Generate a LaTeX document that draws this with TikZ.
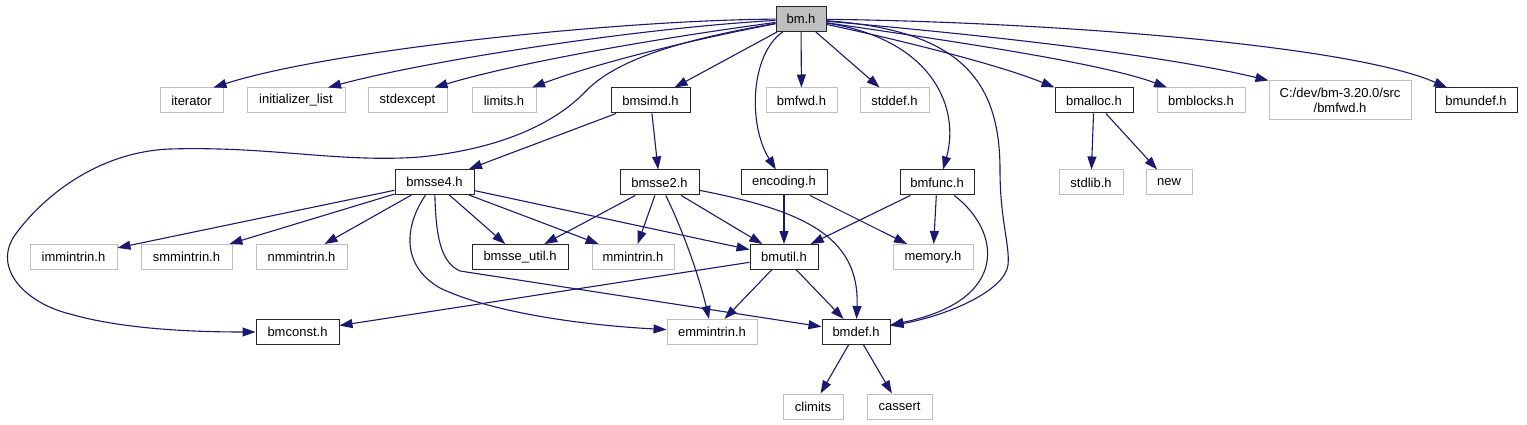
\documentclass[tikz,border=0pt]{standalone}
\usepackage{fontspec}
\setmainfont{Liberation Sans}
\usetikzlibrary{arrows.meta}
\definecolor{edgeblue}{HTML}{191970}
\definecolor{extgray}{HTML}{BFBFBF}

\begin{document}
\begin{tikzpicture}[x=1pt,y=-1pt,
  file/.style={rectangle,inner sep=0pt,minimum height=25pt,line width=1pt,
    font=\fontsize{13}{15}\selectfont},
  inc/.style={file,draw=black!85},
  sys/.style={file,draw=extgray},
  dep/.style={edgeblue,line width=1.1pt,-{Triangle[length=13pt,width=9pt]}}]
  \useasboundingbox (0,0) rectangle (1527,425);

  % files
  \node[inc,fill=extgray,minimum width=50pt] (bmh) at (801,19) {bm.h};

  \node[sys,minimum width=63pt] (iterator) at (191.5,100.5) {iterator};
  \node[sys,minimum width=98pt] (initlist) at (296,100.5) {initializer\_list};
  \node[sys,minimum width=79pt] (stdexcept) at (407.5,100.5) {stdexcept};
  \node[sys,minimum width=64pt] (limits) at (504,100.5) {limits.h};
  \node[inc,minimum width=79pt] (bmsimd) at (650.5,100.5) {bmsimd.h};
  \node[sys,minimum width=71pt] (bmfwd) at (801.5,100.5) {bmfwd.h};
  \node[sys,minimum width=69pt] (stddef) at (894.5,100.5) {stddef.h};
  \node[inc,minimum width=78pt] (bmalloc) at (1094,100.5) {bmalloc.h};
  \node[sys,minimum width=88pt] (bmblocks) at (1201,100.5) {bmblocks.h};
  \node[sys,minimum width=142pt,minimum height=39pt,align=center] (cdev) at (1340,100.5)
    {C:/dev/bm-3.20.0/src\\/bmfwd.h};
  \node[inc,minimum width=82pt] (bmundef) at (1476,100.5) {bmundef.h};

  \node[inc,minimum width=79pt] (bmsse4) at (434.5,182) {bmsse4.h};
  \node[inc,minimum width=79pt] (bmsse2) at (659.5,182.5) {bmsse2.h};
  \node[inc,minimum width=86pt] (encoding) at (784,182.5) {encoding.h};
  \node[inc,minimum width=74pt] (bmfunc) at (937,182.5) {bmfunc.h};
  \node[sys,minimum width=64pt] (stdlib) at (1091,182.5) {stdlib.h};
  \node[sys,minimum width=46pt] (new) at (1169,182.5) {new};

  \node[sys,minimum width=87pt] (immintrin) at (73.5,257) {immintrin.h};
  \node[sys,minimum width=91pt] (smmintrin) at (186.5,257) {smmintrin.h};
  \node[sys,minimum width=91pt] (nmmintrin) at (301.5,257) {nmmintrin.h};
  \node[inc,minimum width=96pt] (bmsseutil) at (520,257) {bmsse\_util.h};
  \node[sys,minimum width=82pt] (mmintrin) at (633,257) {mmintrin.h};
  \node[inc,minimum width=68pt] (bmutil) at (784,257) {bmutil.h};
  \node[sys,minimum width=80pt] (memory) at (933,257) {memory.h};

  \node[inc,minimum width=83pt] (bmconst) at (297.5,332) {bmconst.h};
  \node[sys,minimum width=90pt] (emmintrin) at (712,332) {emmintrin.h};
  \node[inc,minimum width=68pt] (bmdef) at (856,332) {bmdef.h};

  \node[sys,minimum width=60pt] (climits) at (813,406.5) {climits};
  \node[sys,minimum width=65pt] (cassert) at (899.5,406.5) {cassert};

  % includes of bm.h
  \draw[dep] (bmh) .. controls (620,20) and (330,50) .. ([xshift=22pt]iterator.north);
  \draw[dep] (bmh) .. controls (640,28) and (430,60) .. ([xshift=32pt]initlist.north);
  \draw[dep] (bmh) .. controls (660,38) and (520,62) .. ([xshift=27pt]stdexcept.north);
  \draw[dep] (bmh) .. controls (700,38) and (600,62) .. ([xshift=28pt]limits.north);
  \draw[dep] (bmh) .. controls (680,40) and (615,60) .. (585,92)
    .. controls (560,118) and (510,148) .. (420,157)
    .. controls (340,163) and (270,146) .. (170,149)
    .. controls (95,152) and (40,200) .. (15,235)
    .. controls (-8,268) and (25,303) .. (70,314)
    .. controls (125,330) and (200,332) .. (bmconst);
  \draw[dep] (bmh) -- (bmsimd);
  \draw[dep] (bmh) .. controls (750,55) and (748,125) .. (encoding);
  \draw[dep] (bmh) -- (bmfwd);
  \draw[dep] (bmh) -- (stddef);
  \draw[dep] (bmh) .. controls (935,40) and (960,110) .. ([xshift=6pt]bmfunc.north);
  \draw[dep] (bmh) .. controls (960,30) and (1000,80) .. (1000,170)
    .. controls (1000,220) and (1010,245) .. (1008,265)
    .. controls (1005,290) and (950,315) .. (bmdef);
  \draw[dep] (bmh) .. controls (900,40) and (1000,65) .. (bmalloc.north west);
  \draw[dep] (bmh) .. controls (930,38) and (1100,62) .. ([xshift=-34pt]bmblocks.north);
  \draw[dep] (bmh) .. controls (950,32) and (1150,52) .. (cdev.north west);
  \draw[dep] (bmh) .. controls (1050,22) and (1350,45) .. ([xshift=-29pt]bmundef.north);

  % second level
  \draw[dep] (bmsimd) -- (bmsse4);
  \draw[dep] (bmsimd) -- (bmsse2);
  \draw[dep] (bmalloc) -- (stdlib);
  \draw[dep] (bmalloc) -- (new);

  \draw[dep] (bmsse4) -- (immintrin);
  \draw[dep] (bmsse4) -- (smmintrin);
  \draw[dep] (bmsse4) -- (nmmintrin);
  \draw[dep] (bmsse4) -- (bmsseutil);
  \draw[dep] (bmsse4) -- (mmintrin);
  \draw[dep] (bmsse4) -- (bmutil);
  \draw[dep] (bmsse4) .. controls (436,235) and (440,262) .. (460,271) -- (bmdef);
  \draw[dep] (bmsse4) .. controls (405,225) and (400,265) .. (440,288)
    .. controls (490,312) and (580,325) .. (emmintrin);

  \draw[dep] (bmsse2) -- (bmsseutil);
  \draw[dep] (bmsse2) -- (mmintrin);
  \draw[dep] (bmsse2) .. controls (685,235) and (700,280) .. (emmintrin);
  \draw[dep] (bmsse2) -- (bmutil);
  \draw[dep] (bmsse2) .. controls (800,210) and (860,235) .. (bmdef);

  \draw[dep] (encoding) -- (bmutil);
  \draw[dep] (encoding) -- (memory);
  \draw[dep] (bmfunc) -- (bmutil);
  \draw[dep] (bmfunc) -- (memory);
  \draw[dep] (bmfunc) .. controls (1000,230) and (1012,300) .. (bmdef);

  \draw[dep] (bmutil) -- (bmconst);
  \draw[dep] (bmutil) -- (emmintrin);
  \draw[dep] (bmutil) -- (bmdef);
  \draw[dep] (bmdef) -- (climits);
  \draw[dep] (bmdef) -- (cassert);
\end{tikzpicture}
\end{document}
